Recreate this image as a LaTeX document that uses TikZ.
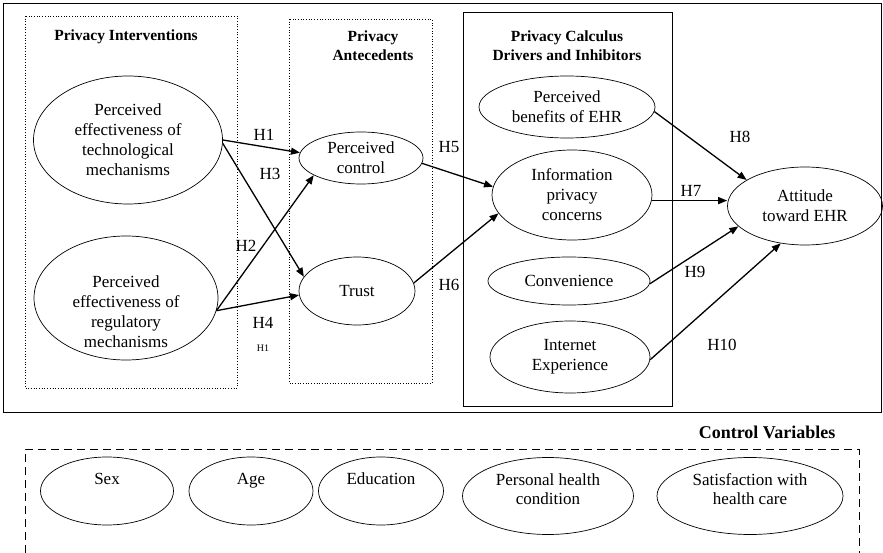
\documentclass[tikz,border=0pt]{standalone}
\usepackage{fontspec}
\setmainfont{Liberation Serif}
\usetikzlibrary{arrows.meta,shapes.geometric}
\begin{document}
\begin{tikzpicture}[x=1pt,y=-1pt,
  ell/.style={draw,ellipse,line width=0.7pt,inner sep=0pt,align=center,font=\fontsize{17}{20}\selectfont},
  txt/.style={align=center,inner sep=0pt,font=\fontsize{17}{20}\selectfont},
  cv/.style={draw,ellipse,line width=0.7pt,inner sep=0pt},
  cvt/.style={align=center,inner sep=0pt,font=\fontsize{17}{19}\selectfont},
  arr/.style={line width=1.3pt,-{Triangle[length=9pt,width=7pt]}},
  hl/.style={inner sep=0pt,font=\fontsize{17}{19}\selectfont},
  ttl/.style={align=center,inner sep=0pt,font=\bfseries\fontsize{15.5}{19}\selectfont},
  dotbox/.style={draw,dotted,line width=0.7pt},
  ]
\useasboundingbox (0,0) rectangle (883,553);
% frames
\draw[line width=0.9pt] (3,3) rectangle (881,412);
\draw[dotbox] (25,16) rectangle (237,388);
\draw[dotbox] (289,19) rectangle (432,383);
\draw[line width=0.9pt] (463,12) rectangle (672,406);
% titles
\node[ttl] (t1) at (126,37) {Privacy Interventions};
\node[ttl] (t2) at (373,46) {Privacy\\Antecedents};
\node[ttl] (t3) at (567,46) {Privacy Calculus\\Drivers and Inhibitors};
% ellipses
\node[ell,minimum width=189pt,minimum height=128pt] (tech) at (128,140) {Perceived\\effectiveness of\\technological\\mechanisms};
\node[cv,minimum width=184pt,minimum height=124pt] (reg) at (126,298) {};
\node[txt] (regt) at (126,312) {Perceived\\effectiveness of\\regulatory\\mechanisms};
\node[ell,minimum width=124pt,minimum height=52pt] (pc) at (361,158) {Perceived\\control};
\node[ell,minimum width=116pt,minimum height=68pt] (trust) at (357,291) {Trust};
\node[ell,minimum width=176pt,minimum height=62pt] (ben) at (567,107) {Perceived\\benefits of EHR};
\node[ell,minimum width=160pt,minimum height=90pt] (ipc) at (572,195) {Information\\privacy\\concerns};
\node[ell,minimum width=162pt,minimum height=48pt] (conv) at (569,281) {Convenience};
\node[ell,minimum width=160pt,minimum height=72pt] (inet) at (570,357) {Internet\\Experience};
\node[ell,minimum width=155pt,minimum height=78pt] (att) at (805,206) {Attitude\\toward EHR};
% arrows
\draw[arr] (tech.east) -- (pc.175);
\draw[arr] (tech.358) -- (trust.165);
\draw[arr] (reg.-8) -- (pc.200);
\draw[arr] (reg.-8) -- (trust.184);
\draw[arr] (pc.-5) -- (ipc.174);
\draw[arr] (trust.8) -- (ipc.194);
\draw[arr] (ben.-3) -- (att.156);
\draw[arr] (ipc.-4) -- (ipc.-4 -| att.west);
\draw[arr] (conv.-2) -- (att.197);
\draw[arr] (inet.-2) -- (att.237);
% hypothesis labels
\node[hl] (h1) at (264,135) {H1};
\node[hl] (h3) at (270,174) {H3};
\node[hl] (h2) at (246,246) {H2};
\node[hl] (h4) at (263,323) {H4};
\node[inner sep=0pt,font=\fontsize{10}{12}\selectfont] (h1s) at (263,348) {H1};
\node[hl] (h5) at (449,147) {H5};
\node[hl] (h6) at (449,285) {H6};
\node[hl] (h8) at (740,137) {H8};
\node[hl] (h7) at (691,191) {H7};
\node[hl] (h9) at (695,272) {H9};
\node[hl] (h10) at (722,345) {H10};
% control variables
\node[ttl,font=\bfseries\fontsize{18}{20}\selectfont] (cvtitle) at (767,432) {Control Variables};
\draw[line width=0.8pt,dash pattern=on 8pt off 5pt] (25,553) -- (25,449) -- (859,449) -- (859,553);
\node[cv,minimum width=133pt,minimum height=68pt] (sex) at (107,491) {};
\node[cvt] (sext) at (107,481) {\strut Sex};
\node[cv,minimum width=124pt,minimum height=68pt] (age) at (251,491) {};
\node[cvt] (aget) at (251,481) {\strut Age};
\node[cv,minimum width=125pt,minimum height=68pt] (edu) at (381,491) {};
\node[cvt] (edut) at (381,481) {\strut Education};
\node[cv,minimum width=171pt,minimum height=77pt] (phc) at (548,496) {};
\node[cvt] (phct) at (548,489) {Personal health\\condition};
\node[cv,minimum width=186pt,minimum height=77pt] (sat) at (750,496) {};
\node[cvt] (satt) at (750,489) {Satisfaction with\\health care};
\end{tikzpicture}
\end{document}
